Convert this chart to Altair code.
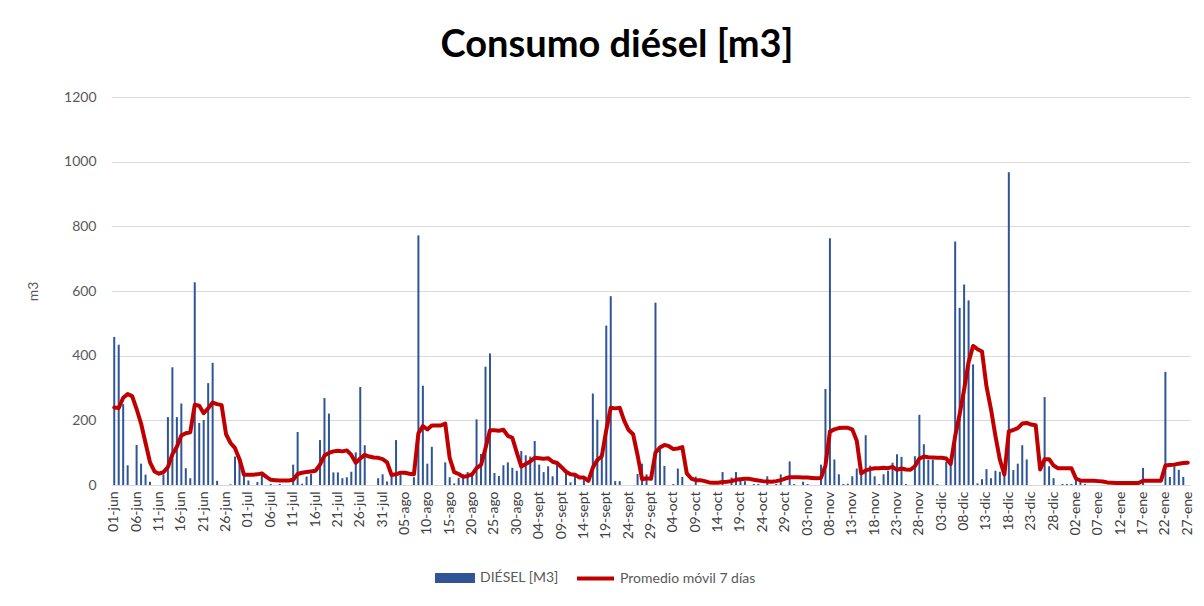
import altair as alt
import pandas as pd

MESES = ["jun", "jul", "ago", "sept", "oct", "nov", "dic", "ene"]
DIAS_MES = [30, 31, 31, 30, 31, 30, 31, 31]
N_DIAS = 241
fechas = [f"{d:02d}-{m}" for m, n in zip(MESES, DIAS_MES) for d in range(1, n + 1)][:N_DIAS]
ticks = fechas[::5]

diesel = [
    458, 434, 250, 61, 0, 124, 66, 32, 10, 0,
    0, 33, 210, 364, 210, 252, 52, 21, 627, 192,
    201, 315, 378, 13, 0, 0, 2, 88, 76, 30,
    14, 0, 9, 32, 0, 3, 0, 3, 0, 0,
    63, 164, 4, 26, 34, 0, 139, 269, 221, 39,
    39, 21, 24, 41, 101, 303, 123, 0, 0, 21,
    33, 11, 27, 139, 33, 0, 0, 24, 772, 307,
    66, 118, 0, 0, 70, 24, 5, 22, 33, 40,
    37, 203, 96, 366, 407, 37, 28, 61, 70, 53,
    44, 105, 92, 88, 136, 63, 40, 58, 27, 64,
    0, 37, 8, 28, 0, 21, 0, 283, 202, 88,
    493, 584, 12, 12, 0, 0, 0, 34, 66, 33,
    0, 564, 115, 59, 0, 3, 51, 25, 0, 0,
    26, 0, 0, 0, 0, 0, 40, 0, 23, 40,
    15, 12, 0, 3, 3, 0, 27, 0, 3, 33,
    0, 73, 3, 0, 10, 3, 0, 0, 63, 297,
    763, 79, 33, 3, 4, 27, 51, 41, 154, 60,
    27, 3, 33, 44, 69, 95, 87, 3, 0, 89,
    217, 126, 78, 78, 3, 0, 72, 71, 753, 548,
    620, 571, 373, 5, 18, 49, 21, 44, 41, 33,
    967, 46, 66, 123, 79, 0, 0, 0, 272, 58,
    21, 0, 3, 3, 3, 22, 10, 3, 0, 0,
    0, 0, 0, 0, 0, 0, 0, 0, 0, 0,
    53, 0, 0, 0, 0, 350, 25, 58, 47, 25,
    0,
]

promedio = [
    240, 238, 270, 281, 275, 235, 190, 130, 70, 42,
    35, 40, 55, 95, 118, 153, 160, 163, 248, 245,
    222, 237, 255, 250, 247, 157, 130, 114, 80, 32,
    32, 32, 33, 36, 25, 16, 15, 14, 14, 14,
    16, 34, 38, 40, 42, 44, 63, 91, 99, 104,
    106, 104, 107, 93, 69, 82, 93, 88, 85, 84,
    80, 70, 31, 33, 38, 38, 35, 33, 160, 182,
    172, 184, 184, 184, 190, 83, 40, 34, 25, 28,
    33, 52, 62, 114, 169, 169, 168, 171, 152, 146,
    100, 57, 65, 73, 84, 83, 81, 83, 72, 68,
    55, 41, 33, 32, 23, 23, 13, 54, 77, 89,
    170, 239, 237, 239, 199, 170, 157, 92, 18, 21,
    19, 100, 116, 124, 120, 111, 113, 117, 36, 20,
    15, 15, 12, 8, 7, 7, 9, 10, 12, 16,
    18, 19, 19, 16, 14, 12, 11, 10, 12, 15,
    20, 24, 24, 24, 23, 23, 22, 21, 22, 60,
    165, 172, 176, 177, 177, 172, 137, 36, 45, 49,
    52, 52, 53, 52, 56, 47, 51, 48, 47, 58,
    82, 88, 86, 85, 84, 84, 82, 65, 151, 218,
    295, 380, 430, 420, 413, 305, 235, 152, 78, 32,
    166, 170, 176, 190, 192, 187, 185, 48, 80, 80,
    60, 52, 52, 52, 52, 20, 14, 13, 13, 13,
    12, 11, 8, 7, 6, 6, 6, 6, 6, 6,
    13, 13, 13, 13, 13, 60, 62, 63, 66, 68,
    69,
]

y_ticks = [0, 200, 400, 600, 800, 1000, 1200]
SERIE_BARRAS = "DIÉSEL [M3]"
SERIE_LINEA = "Promedio móvil 7 días"

df = pd.DataFrame({"fecha": fechas, "diesel": diesel, "promedio": promedio})

FONT = "Lato"

x_enc = alt.X(
    "fecha:O",
    sort=None,
    title=None,
    scale=alt.Scale(paddingInner=0, paddingOuter=0),
    axis=alt.Axis(
        values=ticks,
        labelAngle=-90,
        labelFont=FONT,
        labelFontSize=14,
        labelColor="#404040",
        labelPadding=6,
        labelOverlap=False,
        ticks=False,
        grid=False,
        domainColor="#D9D9D9",
        domainWidth=1,
    ),
)

y_axis = alt.Axis(
    values=y_ticks,
    format="d",
    grid=True,
    gridColor="#D9D9D9",
    gridWidth=1,
    domain=False,
    ticks=False,
    labelFont=FONT,
    labelFontSize=14,
    labelColor="#595959",
    labelPadding=16,
    title="m3",
    titleFont=FONT,
    titleFontSize=14,
    titleFontWeight="normal",
    titleColor="#595959",
    titleX=-79,
    titleY=194,
    titleAngle=-90,
    titleAlign="center",
    titleBaseline="middle",
)

bars = (
    alt.Chart(df)
    .transform_calculate(serie=f"'{SERIE_BARRAS}'")
    .mark_bar(width=2)
    .encode(
        x=x_enc,
        y=alt.Y("diesel:Q", scale=alt.Scale(domain=[0, 1200], nice=False), axis=y_axis),
        color=alt.Color(
            "serie:N",
            scale=alt.Scale(domain=[SERIE_BARRAS], range=["#2F5597"]),
            legend=alt.Legend(
                title=None,
                orient="none",
                legendX=323,
                legendY=461,
                padding=0,
                symbolType="M-1,-0.25L1,-0.25L1,0.25L-1,0.25Z",
                symbolSize=1600,
                symbolStrokeWidth=0,
                labelFont=FONT,
                labelFontSize=14,
                labelColor="#595959",
                labelOffset=5,
            ),
        ),
    )
)

line = (
    alt.Chart(df)
    .transform_calculate(serie_linea=f"'{SERIE_LINEA}'")
    .mark_line(strokeWidth=4, strokeJoin="round", strokeCap="round")
    .encode(
        x=x_enc,
        y=alt.Y("promedio:Q"),
        stroke=alt.Stroke(
            "serie_linea:N",
            scale=alt.Scale(domain=[SERIE_LINEA], range=["#C00000"]),
            legend=alt.Legend(
                title=None,
                orient="none",
                legendX=463,
                legendY=461,
                padding=0,
                symbolType="stroke",
                symbolSize=1369,
                symbolStrokeWidth=4,
                labelFont=FONT,
                labelFontSize=14,
                labelColor="#595959",
                labelOffset=4,
            ),
        ),
    )
)

chart = (
    alt.layer(bars, line)
    .properties(
        width=1078,
        height=388,
        title=alt.TitleParams(
            "Consumo diésel [m3]",
            font=FONT,
            fontSize=38,
            fontWeight="bold",
            color="#000000",
            anchor="middle",
            dx=-34,
            dy=40,
            offset=35,
            baseline="alphabetic",
        ),
        autosize=alt.AutoSizeParams(type="none"),
        padding={"left": 104, "top": 89, "right": 6, "bottom": 113},
    )
    .configure_view(strokeWidth=0)
)

chart.save("out.html", embed_options={"renderer": "svg", "actions": False})
